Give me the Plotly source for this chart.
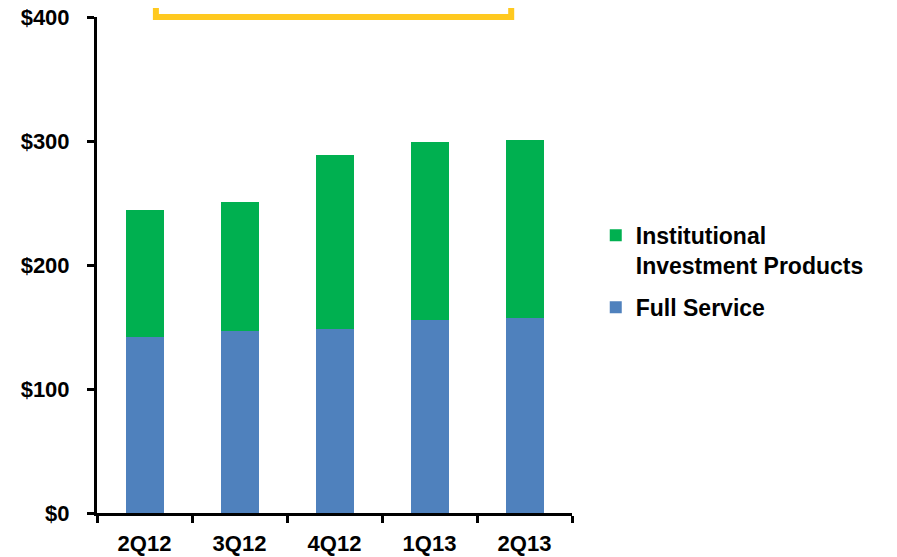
import plotly.graph_objects as go

quarters = ["2Q12", "3Q12", "4Q12", "1Q13", "2Q13"]
full_service = [142, 147, 148, 156, 157]
institutional = [102, 104, 141, 143, 144]
y_ticks = [0, 100, 200, 300, 400]
y_tick_text = ["$0", "$100", "$200", "$300", "$400"]

FONT = "Liberation Sans, Arial, sans-serif"

fig = go.Figure()
fig.add_trace(go.Bar(
    x=quarters, y=full_service, name="Full Service",
    marker=dict(color="#4F81BD", line=dict(width=0)),
    width=0.4, legendgroup="fs", legendrank=2,
))
fig.add_trace(go.Bar(
    x=quarters, y=institutional, name="Institutional<br>Investment Products",
    marker=dict(color="#00B050", line=dict(width=0)),
    width=0.4, legendgroup="iip", legendrank=1,
))

# page body adds an 8px margin, so the figure is 8px smaller than the window
fig.update_layout(
    barmode="stack",
    width=889, height=549,
    margin=dict(l=89, r=325, t=9, b=44),
    plot_bgcolor="white", paper_bgcolor="white",
    font=dict(family=FONT, size=22, color="black", weight="bold"),
    legend=dict(
        x=1.05, y=0.603, xanchor="left", yanchor="top",
        traceorder="grouped", valign="top", tracegroupgap=9,
        itemwidth=30, font=dict(size=23, weight="bold"),
        bgcolor="rgba(0,0,0,0)",
    ),
    showlegend=True,
)

fig.update_xaxes(
    type="category", range=[-0.5, 4.5], automargin=False,
    showline=True, linecolor="black", linewidth=3,
    ticks="outside", tickson="boundaries", ticklen=7, tickwidth=3, tickcolor="black",
    ticklabelstandoff=9,
    showgrid=False, tickfont=dict(size=22, weight="bold"),
)
fig.update_yaxes(
    range=[0, 400], tickvals=y_ticks, ticktext=y_tick_text, automargin=False,
    showline=True, linecolor="black", linewidth=3,
    ticks="outside", ticklen=7, tickwidth=3, tickcolor="black",
    ticklabelstandoff=13, ticklabeloverflow="allow",
    showgrid=False, zeroline=False, tickfont=dict(size=22, weight="bold"),
)

# yellow frame partially visible at the top
fig.add_shape(
    type="rect", xref="paper", yref="paper",
    x0=0.124, x1=0.872, y0=1.0, y1=1.3,
    line=dict(color="#FFC91F", width=6), fillcolor="rgba(0,0,0,0)",
    layer="above",
)

fig.write_html("out.html")
